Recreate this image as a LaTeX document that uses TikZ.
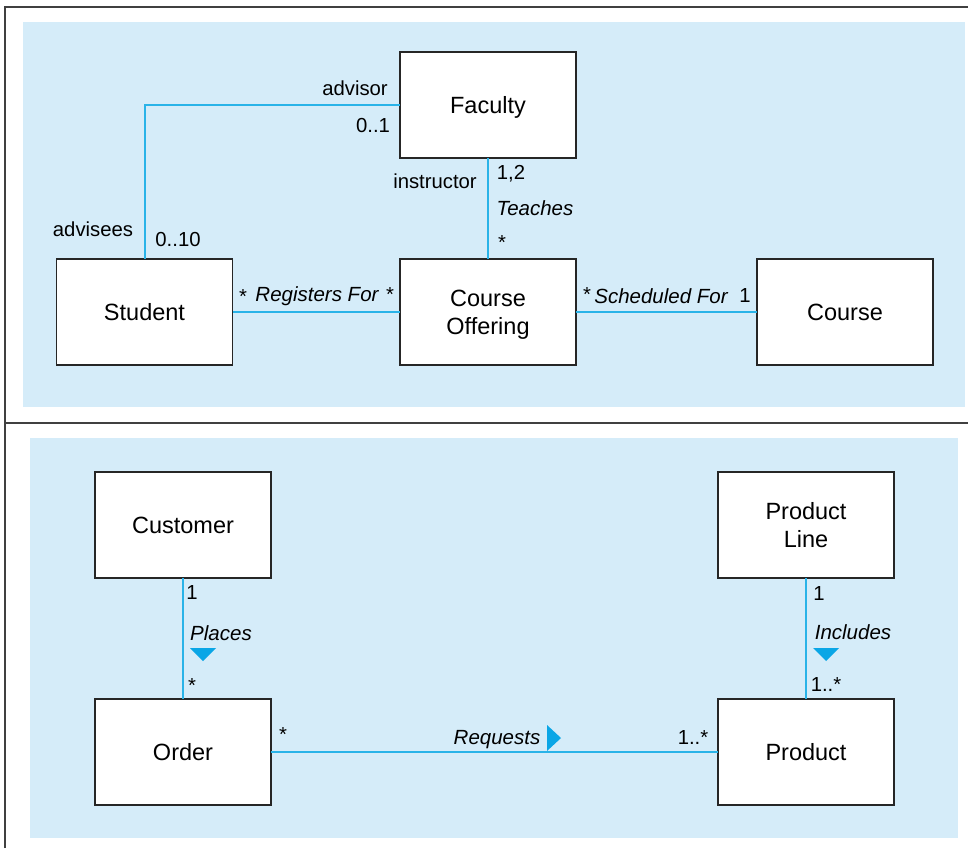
\documentclass[tikz,border=0pt]{standalone}
\usepackage{fontspec}
\setmainfont{Liberation Sans}
\definecolor{panel}{HTML}{D5ECF9}
\definecolor{linecol}{HTML}{29B3E8}
\definecolor{tri}{HTML}{0AA6E6}
\begin{document}
\begin{tikzpicture}[x=1pt,y=-1pt,
  cls/.style={draw=black!85, line width=1.1pt, fill=white, minimum width=176pt, minimum height=106pt,
    font=\fontsize{23.5}{28}\selectfont, align=center, inner sep=0pt, outer sep=0pt, text depth=0pt},
  assoc/.style={draw=linecol, line width=1.4pt},
  lbl/.style={font=\fontsize{20.3}{23}\selectfont, inner sep=0pt},
  ilbl/.style={font=\fontsize{20.5}{23}\selectfont\itshape, inner sep=0pt},
  frame/.style={draw=black!75, line width=1.2pt}]
\useasboundingbox (0,0) rectangle (968,848);
% frame
\draw[frame] (5,848) -- (5,7) -- (968,7);
\draw[frame] (5,423) -- (968,423);
% panels
\fill[panel] (23,22) rectangle (965,407);
\fill[panel] (30,438) rectangle (958,838);

% ---------- top diagram ----------
\node[cls] (fac) at (488,105) {Faculty};
\node[cls] (stu) at (144.5,312) {Student};
\node[cls] (co) at (488,312) {Course\\Offering};
\node[cls] (crs) at (845,312) {Course};

\coordinate (bend) at (145,105);
\draw[assoc] (fac.west) -- (bend) -- (stu.north -| bend);
\draw[assoc] (fac.south) -- (co.north);
\draw[assoc] (stu.east) -- (co.west);
\draw[assoc] (co.east) -- (crs.west);

\node[lbl] (l1) at (355,88) {advisor};
\node[lbl] (l2) at (373,126) {0..1};
\node[lbl] (l3) at (93,229) {advisees};
\node[lbl] (l4) at (178,240) {0..10};
\node[lbl] (l5) at (435,181) {instructor};
\node[lbl] (l6) at (511,174) {1,2};
\node[ilbl] (l7) at (535,208) {Teaches};
\node[lbl] (l8) at (502,243) {*};
\node[lbl] (l9) at (243,297) {*};
\node[ilbl] (l10) at (317,296) {Registers For};
\node[lbl] (l11) at (390,295) {*};
\node[lbl] (l12) at (587,295) {*};
\node[ilbl] (l13) at (661,296) {Scheduled For};
\node[lbl] (l14) at (745,296) {1};

% ---------- bottom diagram ----------
\node[cls] (cus) at (183,525) {Customer};
\node[cls] (pl) at (806,525) {Product\\Line};
\node[cls] (ord) at (183,752) {Order};
\node[cls] (prd) at (806,752) {Product};

\draw[assoc] (cus.south) -- (ord.north);
\draw[assoc] (pl.south) -- (prd.north);
\draw[assoc] (ord.east) -- (prd.west);

\node[lbl] (b1) at (192,593) {1};
\node[ilbl] (b2) at (221,633) {Places};
\fill[tri] (190,648) -- (216,648) -- (203,661) -- cycle;
\node[lbl] (b3) at (192,686) {*};

\node[lbl] (b4) at (819,594) {1};
\node[ilbl] (b5) at (853,632) {Includes};
\fill[tri] (813,648) -- (839,648) -- (826,661) -- cycle;
\node[lbl] (b6) at (826,685) {1..*};

\node[lbl] (b7) at (283,735) {*};
\node[ilbl] (b8) at (497,740) {Requests};
\fill[tri] (547,725) -- (561,738) -- (547,751) -- cycle;
\node[lbl] (b9) at (693,738) {1..*};
\end{tikzpicture}
\end{document}
